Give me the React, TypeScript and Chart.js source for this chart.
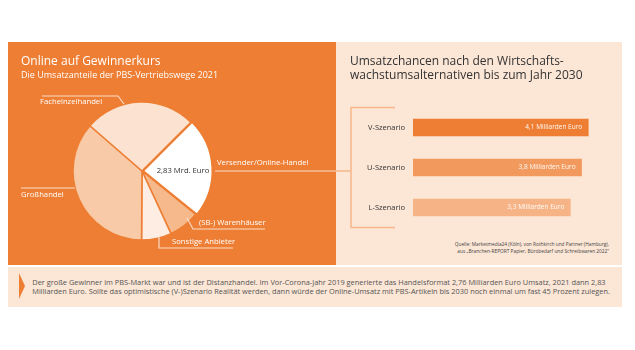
import React, { useEffect, useRef } from "react";
import { Chart, registerables } from "chart.js";

Chart.register(...registerables);

// ---- Data: left pie (shares of PBS sales channels 2021, %) ----
const shareLabels = ["Versender/Online-Handel", "(SB-) Warenhäuser", "Sonstige Anbieter", "Großhandel", "Facheinzelhandel"];
const shareValues = [23.3, 7.3, 7.0, 36.3, 26.1];
const shareColors = ["#FFFFFF", "#F6B98C", "#FDEDE2", "#F8CAA8", "#FCE3D1"];
const shareOffsets = [5, 0, 0, 0, 0];
const onlineRevenueLabel = "2,83 Mrd. Euro";

// ---- Data: right bars (scenarios 2030, Mrd. Euro) ----
const scenarioLabels = ["V-Szenario", "U-Szenario", "L-Szenario"];
const scenarioValues = [4.1, 3.8, 3.3];
const scenarioValueLabels = ["4,1 Milliarden Euro", "3,8 Milliarden Euro", "3,3 Milliarden Euro"];
const scenarioColors = ["#EE7E33", "#F29A5E", "#F6B486"];
const scenarioAxisMin = -3.7;
const scenarioAxisMax = 5.2;

const ORANGE = "#EE7E33";
const PEACH = "#FCE6D6";
const FONT = "'Open Sans', 'DejaVu Sans', sans-serif";
const CONNECTOR_Y = 171; // page y of the connector line
const BAR_TOP = 95;

const pieLabelsPlugin = {
  id: "pieLabels",
  afterDraw(chart: any) {
    const ctx = chart.ctx;
    const arc = chart.getDatasetMeta(0).data[1];
    const cx = arc.x;
    const cy = arc.y;
    ctx.save();
    ctx.strokeStyle = "#FADBC6";
    ctx.lineWidth = 1.2;
    const poly = (pts: number[][]) => {
      ctx.beginPath();
      pts.forEach(([x, y], i) => (i ? ctx.lineTo(cx + x, cy + y) : ctx.moveTo(cx + x, cy + y)));
      ctx.stroke();
    };
    poly([[-100, -75], [-24, -75], [-18, -67]]);
    poly([[-121, 17], [-67, 17]]);
    poly([[73, 0], [chart.width - cx, 0]]);
    poly([[45, 47], [51, 58], [123, 58]]);
    poly([[17, 66], [17, 77], [91, 77]]);

    ctx.fillStyle = "#FFFFFF";
    ctx.font = `7.7px ${FONT}`;
    ctx.textBaseline = "middle";
    ctx.textAlign = "left";
    ctx.fillText(shareLabels[4], cx - 102, cy - 69);
    ctx.fillText(shareLabels[3], cx - 121, cy + 24);
    ctx.fillText(shareLabels[0], cx + 75, cy - 8);
    ctx.fillText(shareLabels[1], cx + 57, cy + 52);
    ctx.fillText(shareLabels[2], cx + 30, cy + 71);

    ctx.fillStyle = "#333333";
    ctx.textAlign = "center";
    ctx.fillText(onlineRevenueLabel, cx + 41, cy);
    ctx.restore();
  },
};

const barDecorPlugin = {
  id: "barDecor",
  beforeDatasetsDraw(chart: any) {
    const ctx = chart.ctx;
    const { left, top, bottom } = chart.chartArea;
    const bx = left - 62;
    ctx.save();
    ctx.strokeStyle = "#F6B78B";
    ctx.lineWidth = 1.5;
    ctx.beginPath();
    ctx.moveTo(left - 18, top);
    ctx.lineTo(bx, top);
    ctx.lineTo(bx, bottom);
    ctx.lineTo(left - 18, bottom);
    ctx.stroke();
    ctx.beginPath();
    ctx.moveTo(0, CONNECTOR_Y - BAR_TOP);
    ctx.lineTo(bx, CONNECTOR_Y - BAR_TOP);
    ctx.stroke();
    ctx.restore();
  },
  afterDatasetsDraw(chart: any) {
    const ctx = chart.ctx;
    const xs = chart.scales.x;
    const ys = chart.scales.y;
    ctx.save();
    ctx.fillStyle = "rgba(255,255,255,0.95)";
    ctx.font = `6.5px ${FONT}`;
    ctx.textAlign = "right";
    ctx.textBaseline = "middle";
    scenarioValues.forEach((v, i) => {
      ctx.fillText(scenarioValueLabels[i], xs.getPixelForValue(v) - 6, ys.getPixelForValue(i));
    });
    ctx.restore();
  },
};

function PieChart() {
  const ref = useRef<HTMLCanvasElement>(null);
  useEffect(() => {
    const chart = new Chart(ref.current!, {
      type: "pie",
      data: {
        labels: shareLabels,
        datasets: [
          {
            data: shareValues,
            backgroundColor: shareColors,
            borderColor: ORANGE,
            borderWidth: 1.5,
            offset: shareOffsets,
          },
        ],
      },
      options: {
        responsive: false,
        animation: false,
        rotation: 45,
        radius: 69,
        layout: { padding: { left: 0, right: 60, top: 34, bottom: 0 } },
        plugins: { legend: { display: false }, tooltip: { enabled: false } },
      } as any,
      plugins: [pieLabelsPlugin],
    });
    return () => chart.destroy();
  }, []);
  return <canvas ref={ref} width={328} height={224} style={{ position: "absolute", left: 8, top: 42, width: 328, height: 224 }} />;
}

function BarChart() {
  const ref = useRef<HTMLCanvasElement>(null);
  useEffect(() => {
    const chart = new Chart(ref.current!, {
      type: "bar",
      data: {
        labels: scenarioLabels,
        datasets: [
          {
            data: scenarioValues.map((v) => [scenarioAxisMin, v]),
            backgroundColor: scenarioColors,
            barThickness: 17,
            borderWidth: 0,
            borderSkipped: false,
          },
        ],
      },
      options: {
        indexAxis: "y",
        responsive: false,
        animation: false,
        layout: { padding: { top: 9.5, bottom: 9, right: 9, left: 0 } },
        scales: {
          x: { display: false, min: scenarioAxisMin, max: scenarioAxisMax },
          y: {
            grid: { display: false, drawTicks: false },
            border: { display: false },
            ticks: { color: "#333333", font: { family: FONT, size: 7.5 }, padding: 8 },
            afterFit: (s: any) => {
              s.width = 77;
            },
          },
        },
        plugins: { legend: { display: false }, tooltip: { enabled: false } },
      } as any,
      plugins: [barDecorPlugin],
    });
    return () => chart.destroy();
  }, []);
  return <canvas ref={ref} width={286} height={145} style={{ position: "absolute", left: 336, top: BAR_TOP, width: 286, height: 145 }} />;
}

export default function App() {
  return (
    <div style={{ position: "fixed", left: 0, top: 0, width: 635, height: 350, background: "#FFFFFF", fontFamily: FONT, overflow: "hidden" }}>
      <div style={{ position: "absolute", left: 8, top: 42, width: 328, height: 223, background: ORANGE }} />
      <div style={{ position: "absolute", left: 336, top: 42, width: 286, height: 223, background: PEACH }} />
      <div style={{ position: "absolute", left: 7.5, top: 267.3, width: 614, height: 40, background: PEACH }} />
      <PieChart />
      <BarChart />
      <div style={{ position: "absolute", left: 21, top: 53.7, fontSize: 12, lineHeight: "14px", color: "#FFFFFF", whiteSpace: "nowrap" }}>
        Online auf Gewinnerkurs
      </div>
      <div style={{ position: "absolute", left: 21, top: 68.8, fontSize: 9, lineHeight: "11px", color: "#FFFFFF", whiteSpace: "nowrap" }}>
        Die Umsatzanteile der PBS-Vertriebswege 2021
      </div>
      <div style={{ position: "absolute", left: 350, top: 54.3, fontSize: 12, lineHeight: "13.4px", color: "#333333", whiteSpace: "nowrap" }}>
        Umsatzchancen nach den Wirtschafts-
        <br />
        wachstumsalternativen bis zum Jahr 2030
      </div>
      <div style={{ position: "absolute", right: 635 - 609, top: 240.5, fontSize: 4.8, lineHeight: "7px", color: "#444444", whiteSpace: "nowrap", textAlign: "right" }}>
        Quelle: Marketmedia24 (Köln), von Rothkirch und Partner (Hamburg),
        <br />
        aus „Branchen-REPORT Papier, Bürobedarf und Schreibwaren 2022“
      </div>
      <svg style={{ position: "absolute", left: 19, top: 273 }} width={7} height={27}>
        <polygon points="0,0 6,13 0,26" fill={ORANGE} />
      </svg>
      <div style={{ position: "absolute", left: 32.3, top: 277.7, fontSize: 7.4, lineHeight: "9.6px", color: "#555555", whiteSpace: "nowrap" }}>
        Der große Gewinner im PBS-Markt war und ist der Distanzhandel. Im Vor-Corona-Jahr 2019 generierte das Handelsformat 2,76 Milliarden Euro Umsatz, 2021 dann 2,83
        <br />
        Milliarden Euro. Sollte das optimistische (V-)Szenario Realität werden, dann würde der Online-Umsatz mit PBS-Artikeln bis 2030 noch einmal um fast 45 Prozent zulegen.
      </div>
    </div>
  );
}
